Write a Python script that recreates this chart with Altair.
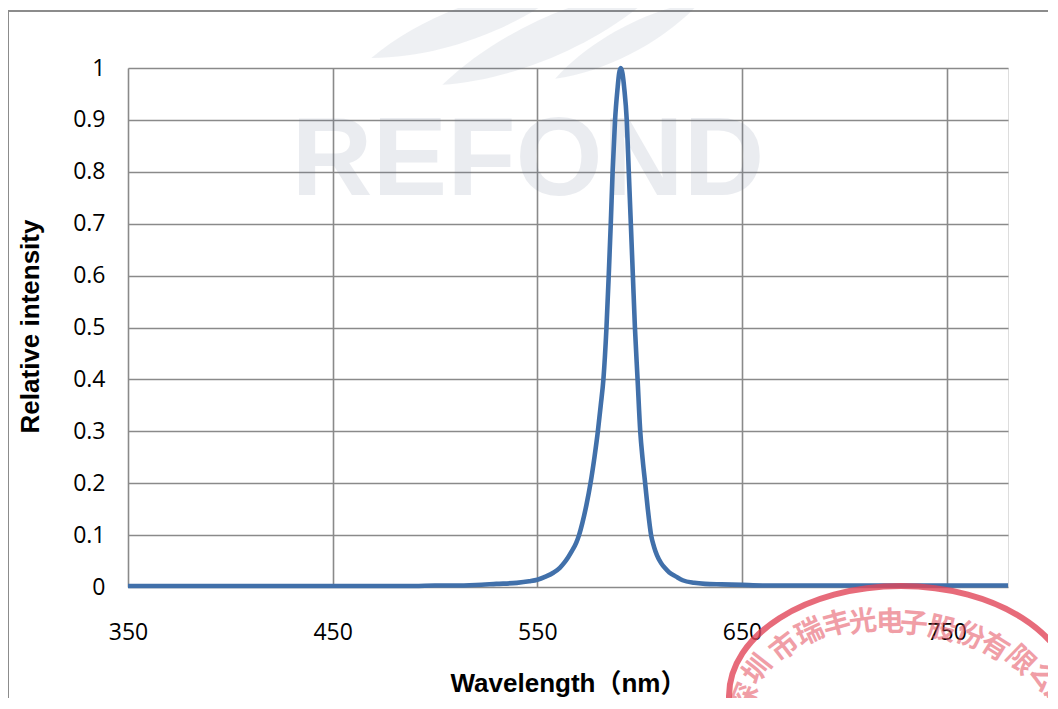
import altair as alt
import pandas as pd

# ---- data ----
wavelength = [350, 370, 390, 410, 430, 450, 470, 490, 500, 510, 520, 530, 540, 546,
              550, 554, 558, 561, 563, 565, 567, 569, 570.4, 572, 574, 576, 578,
              579.6, 581.0, 582.3, 583.8, 584.9, 585.9, 586.8, 588.0, 589.2, 590.0,
              590.8, 591.6, 592.5, 593.7, 594.7, 595.7, 596.7, 597.7, 599.0, 600.3,
              601.5, 602.7, 604.0, 605.6, 607.0, 608.5, 610.5, 612.5, 614.5, 617.8,
              621, 626.7, 632, 640, 650, 660, 680, 700, 720, 740, 760, 780]
intensity = [0.002, 0.002, 0.002, 0.002, 0.002, 0.002, 0.002, 0.002, 0.003, 0.003,
             0.004, 0.006, 0.008, 0.011, 0.014, 0.02, 0.028, 0.037, 0.046, 0.057,
             0.07, 0.085, 0.1, 0.123, 0.158, 0.2, 0.252, 0.3, 0.35, 0.4, 0.5, 0.6,
             0.7, 0.8, 0.9, 0.96, 0.99, 1.0, 0.99, 0.96, 0.9, 0.8, 0.7, 0.6, 0.5,
             0.4, 0.3, 0.245, 0.2, 0.15, 0.1, 0.078, 0.061, 0.046, 0.036, 0.028, 0.02,
             0.013, 0.008, 0.006, 0.005, 0.004, 0.003, 0.003, 0.003, 0.003, 0.003,
             0.003, 0.003]
x_ticks = [350, 450, 550, 650, 750]
y_ticks = [0, 0.1, 0.2, 0.3, 0.4, 0.5, 0.6, 0.7, 0.8, 0.9, 1.0]

# decorative texts (watermark + company seal)
watermark_text = "REFOND"
seal_chars = ["深", "圳", "市", "瑞", "丰", "光", "电", "子", "股", "份", "有", "限", "公", "司"]

df = pd.DataFrame({"wl": wavelength, "ri": intensity})

LABEL_FONT = "Open Sans"
TITLE_FONT = "Liberation Sans, Arial, Noto Sans CJK SC"
GRID = "#8a8a8a"

x_enc = alt.X(
    "wl:Q",
    scale=alt.Scale(domain=[350, 780], nice=False, zero=False),
    axis=alt.Axis(
        values=x_ticks, grid=True, gridColor=GRID, gridWidth=1.6,
        domain=False, ticks=False, labelPadding=34, labelFlush=False,
        labelFont=LABEL_FONT, labelFontSize=23, labelColor="#000000",
        title="Wavelength（nm）", titleFont=TITLE_FONT, titleFontSize=26,
        titleFontWeight="bold", titleColor="#000000",
        titleX=440, titleY=83, titleBaseline="top", titleAlign="center",
    ),
)
y_enc = alt.Y(
    "ri:Q",
    scale=alt.Scale(domain=[0, 1], nice=False),
    axis=alt.Axis(
        values=y_ticks, format=".1~f", grid=True, gridColor=GRID, gridWidth=1.6,
        domain=False, ticks=False, labelPadding=23, labelFlush=False,
        labelFont=LABEL_FONT, labelFontSize=23, labelColor="#000000",
        title="Relative intensity", titleFont=TITLE_FONT, titleFontSize=26,
        titleFontWeight="bold", titleColor="#000000",
        titleX=-85, titleY=258, titleAngle=270, titleBaseline="bottom",
        titleAlign="center",
    ),
)

one = pd.DataFrame({"a": [0]})

line = alt.Chart(df).mark_line(
    color="#4170AA", strokeWidth=4.6, interpolate="monotone"
).encode(x=x_enc, y=y_enc)

# faint company watermark
watermark = alt.Chart(pd.DataFrame({"t": [watermark_text]})).mark_text(
    font="Liberation Sans", fontSize=112, fontWeight="bold",
    color="#5a6a8a", opacity=0.12, align="center", baseline="alphabetic",
).encode(text="t:N", x=alt.value(400), y=alt.value(127))

LEAF = "M -1 0 C -0.4 -0.22 0.4 -0.22 1 0 C 0.4 0.22 -0.4 0.22 -1 0 Z"
leaf_layout = [(342, -46, 210, 340), (424, -32, 240, 336), (500, -28, 165, 332)]
leaves = [
    alt.Chart(one).mark_point(shape=LEAF, filled=True, color="#5a6a8a", opacity=0.1,
                              size=L * L, angle=ang, strokeWidth=0)
    .encode(x=alt.value(px), y=alt.value(py))
    for px, py, L, ang in leaf_layout
]

# outer chart frame
frame = alt.Chart(one).mark_rect(
    filled=False, stroke="#8c8c8c", strokeWidth=2
).encode(x=alt.value(-120), x2=alt.value(1000), y=alt.value(-57), y2=alt.value(700))

# red oval company seal (bottom right)
OVAL = ("M 1 0 C 1 0.3532 0.5523 0.6395 0 0.6395 C -0.5523 0.6395 -1 0.3532 -1 0 "
        "C -1 -0.3532 -0.5523 -0.6395 0 -0.6395 C 0.5523 -0.6395 1 -0.3532 1 0 Z")
seal_ring = alt.Chart(one).mark_point(
    shape=OVAL, filled=False, color="#e2475a", strokeWidth=6, opacity=0.8, size=344 * 344
).encode(x=alt.value(773), y=alt.value(628))

seal_layout = [(618, 630, 292), (630, 602, 308), (657, 580, 322), (682, 565, 335),
               (709, 557, 345), (735, 555, 352), (762, 555, 359), (786, 557, 5),
               (814, 562, 13), (842, 569, 22), (866, 580, 32), (892, 593, 44),
               (915, 610, 58), (926, 632, 70)]
seal_text = [
    alt.Chart(pd.DataFrame({"c": [ch]})).mark_text(
        font="Noto Sans CJK SC", fontSize=28, fontWeight="bold", color="#e4505f",
        opacity=0.55, angle=ang, align="center", baseline="middle",
    ).encode(text="c:N", x=alt.value(px), y=alt.value(py))
    for ch, (px, py, ang) in zip(seal_chars, seal_layout)
]

chart = alt.layer(frame, watermark, *leaves, line, seal_ring, *seal_text).properties(
    width=880, height=519,
    padding={"left": 120, "top": 60, "right": 40, "bottom": 111},
    autosize="none",
).configure_view(stroke=None).configure(background="white")

chart.save("out.html", embed_options={"renderer": "svg", "actions": False})
